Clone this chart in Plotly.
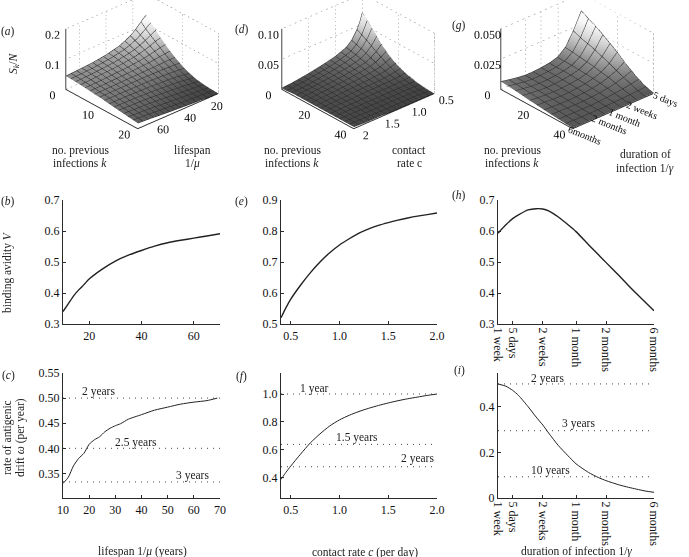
import plotly.graph_objects as go

W, H = 689, 557
FONT = "Liberation Serif"
INK = "#2a2a2a"
NB = "\u00a0"

# panel (a): S_k/N against k and lifespan
a_k = [0, 2, 4, 6, 8, 10, 12, 14, 16, 18, 20]
a_life = [10, 12, 14, 17, 20, 25, 30, 40, 50, 60, 70]
a_z = [
    [.130, .124, .115, .102, .090, .077, .067, .056, .050, .047, .044],
    [.105, .100, .094, .086, .078, .068, .061, .053, .048, .045, .043],
    [.081, .079, .076, .071, .066, .060, .055, .049, .046, .043, .041],
    [.060, .059, .058, .056, .054, .050, .048, .044, .042, .040, .039],
    [.042, .042, .042, .042, .041, .040, .040, .039, .038, .037, .036],
    [.027, .028, .029, .030, .031, .032, .033, .034, .034, .034, .034],
    [.016, .017, .018, .020, .022, .024, .025, .028, .029, .030, .030],
    [.008, .009, .010, .012, .014, .016, .018, .022, .025, .026, .027],
    [.004, .005, .006, .007, .008, .010, .012, .016, .020, .022, .024],
    [.002, .002, .003, .004, .005, .006, .008, .011, .015, .018, .021],
    [.001, .001, .002, .002, .003, .004, .005, .008, .011, .015, .018],
]

# panel (d): S_k/N against k and contact rate
d_k = [0, 3, 6, 10, 15, 20, 25, 30, 35, 40]
d_rate = [.5, .55, .6, .7, .8, 1, 1.25, 1.5, 1.75, 2]
d_z = [
    [.069, .055, .045, .031, .023, .016, .011, .007, .004, .002],
    [.059, .049, .040, .028, .021, .015, .010, .007, .004, .002],
    [.050, .042, .035, .025, .019, .014, .010, .007, .004, .003],
    [.036, .031, .027, .020, .016, .012, .009, .007, .005, .003],
    [.022, .020, .018, .014, .012, .010, .008, .006, .005, .003],
    [.013, .012, .011, .009, .008, .007, .006, .005, .004, .003],
    [.007, .007, .006, .006, .005, .005, .005, .004, .004, .003],
    [.003, .003, .003, .003, .003, .003, .003, .003, .003, .003],
    [.001, .001, .001, .002, .002, .002, .002, .002, .003, .003],
    [.000, .000, .001, .001, .001, .001, .001, .002, .002, .003],
]

# panel (g): S_k/N against k and duration of infection (days)
g_k = [0, 5, 10, 15, 20, 25, 30, 35, 40]
g_days = [5, 7, 10, 14, 20, 30, 45, 60, 90, 120, 180]
g_z = [
    [.036, .023, .012, .0065, .0045, .0035, .0030, .0030, .0040, .0050, .0065],
    [.032, .020, .011, .0065, .0045, .0035, .0030, .0030, .0035, .0045, .0058],
    [.028, .018, .010, .0062, .0044, .0034, .0028, .0027, .0032, .0040, .0050],
    [.023, .015, .009, .0058, .0040, .0031, .0025, .0024, .0028, .0033, .0040],
    [.018, .012, .0075, .0052, .0036, .0027, .0021, .0020, .0023, .0027, .0032],
    [.012, .0085, .006, .0042, .0030, .0022, .0017, .0016, .0018, .0020, .0024],
    [.007, .0055, .004, .0030, .0022, .0016, .0012, .0012, .0013, .0015, .0017],
    [.003, .0025, .002, .0017, .0014, .0010, .0008, .0008, .0008, .0009, .0010],
    [.0005, .0005, .0005, .0005, .0005, .0005, .0005, .0005, .0005, .0005, .0005],
]

# line panels
b_life = [10, 12, 14, 16, 18, 20, 25, 30, 35, 40, 45, 50, 55, 60, 65, 70]
b_avidity = [.34, .365, .39, .41, .427, .445, .477, .503, .522, .537, .551, .562, .570, .577, .584, .591]

c_life = [10, 12, 14, 16, 18, 20, 22, 24, 26, 28, 30, 32, 35, 40, 45, 50, 55, 60, 65, 69]
c_drift = [.33, .342, .365, .38, .39, .408, .417, .423, .433, .44, .445, .449, .458, .467, .476, .482, .488, .492, .495, .50]
c_levels = [.5, .4, .333]

e_rate = [.4, .45, .5, .6, .7, .8, .9, 1.0, 1.1, 1.2, 1.3, 1.4, 1.5, 1.6, 1.7, 1.8, 1.9, 2.0]
e_avidity = [.52, .552, .58, .625, .665, .70, .73, .755, .775, .793, .807, .818, .827, .835, .842, .848, .853, .858]

f_rate = [.4, .45, .5, .6, .7, .8, .9, 1.0, 1.1, 1.2, 1.3, 1.4, 1.5, 1.6, 1.7, 1.8, 1.9, 2.0]
f_drift = [.39, .44, .485, .57, .65, .715, .772, .815, .848, .875, .898, .918, .936, .952, .966, .978, .99, 1.0]
f_levels = [1.0, .64, .48]

h_days = [5, 6, 7, 8, 10, 12, 14, 16, 20, 25, 30, 40, 50, 60, 80, 100, 120, 150, 180]
h_avidity = [.593, .62, .64, .652, .668, .672, .671, .665, .645, .62, .598, .556, .524, .498, .457, .424, .398, .368, .343]

i_days = [5, 6, 7, 8, 10, 12, 14, 16, 20, 25, 30, 40, 50, 60, 80, 100, 120, 150, 180]
i_drift = [.50, .49, .472, .45, .40, .355, .32, .285, .23, .185, .15, .112, .09, .076, .058, .047, .039, .03, .025]
i_levels = [.5, .295, .093]

dur_ticks = [5, 7, 14, 30, 60, 180]
dur_labels = ["1 week", "5 days", "2 weeks", "1 month", "2 months", "6 months"]


def ann(x, y, text, angle=0, size=11.5):
    return dict(x=x / W, y=1 - y / H, xref="paper", yref="paper", text=text, textangle=angle,
                xanchor="center", yanchor="middle", showarrow=False,
                font=dict(family=FONT, size=size, color="#222"))


def dom(lo, hi, total, flip=False):
    return [1 - hi / total, 1 - lo / total] if flip else [lo / total, hi / total]


fig = go.Figure()


def line_panel(n, xs, ys, xbox, ybox, xr, yr, xt, yt, xtext=None, levels=()):
    ax, ay = f"x{n}", f"y{n}"
    dot_x = [10 ** xr[0], 10 ** xr[1]] if xtext else xr
    for lv in levels:
        fig.add_trace(go.Scatter(x=dot_x, y=[lv, lv], mode="lines", xaxis=ax, yaxis=ay, showlegend=False,
                                 line=dict(color="#444", width=1, dash="1px 5px")))
    fig.add_trace(go.Scatter(x=xs, y=ys, mode="lines", xaxis=ax, yaxis=ay, showlegend=False,
                             line=dict(color="#222", width=1 if levels else 1.4, shape="spline", smoothing=0.6)))
    common = dict(showline=True, linecolor=INK, linewidth=1.2, showgrid=False, zeroline=False,
                  ticks="inside", ticklen=2.5, tickcolor=INK,
                  tickfont=dict(family=FONT, size=12, color="#111"))
    xa = dict(domain=dom(*xbox, W), range=xr, tickvals=xt, anchor=ay, **common)
    if xtext:
        xa.update(ticktext=xtext, tickangle=90, type="log")
    ya = dict(domain=dom(*ybox, H, flip=True), range=yr, tickvals=yt, anchor=ax, **common)
    name = "" if n == 1 else str(n)
    fig.update_layout({f"xaxis{name}": xa, f"yaxis{name}": ya})


def surface_panel(name, xs, ys, zs, xbox, ybox, xr, yr, zr, xt, yt, zt, ytext, ztext, eye, center, shade,
                  ylog=False, yangle=0, nx=15, ny=15):
    # dotted walls of the box, from the tick arrays
    ylo = 10 ** yr[0] if ylog else yr[0]
    yhi = 10 ** yr[1] if ylog else yr[1]
    wall_x, wall_y, wall_z = [], [], []

    def seg(a, b):
        wall_x.extend([a[0], b[0], None])
        wall_y.extend([a[1], b[1], None])
        wall_z.extend([a[2], b[2], None])

    for z in list(zt):
        seg((xr[0], ylo, z), (xr[0], yhi, z))
        seg((xr[0], yhi, z), (xr[1], yhi, z))
    for x in list(xt) + [xr[1]]:
        seg((x, yhi, zr[0]), (x, yhi, zr[1]))
    for y in list(yt):
        seg((xr[0], y, zr[0]), (xr[0], y, zr[1]))
    fig.add_trace(go.Scatter3d(x=wall_x, y=wall_y, z=wall_z, mode="lines", scene=name, showlegend=False,
                               line=dict(color="#888", width=1, dash="dot")))
    ylow, yhigh = min(yr), max(yr)
    fig.add_trace(go.Surface(x=xs, y=ys, z=[list(r) for r in zip(*zs)], scene=name, showscale=False,
                             colorscale=[[0, "#404040"], [.2, "#6a6a6a"], [.3, "#7e7e7e"], [.5, "#aaaaaa"], [.75, "#d8d8d8"], [1, "#f8f8f8"]],
                             cmin=shade[0], cmax=shade[1],
                             lighting=dict(ambient=1, diffuse=0, specular=0, roughness=1),
                             contours=dict(
                                 x=dict(show=True, color="#2a2a2a", width=1, start=xr[0], end=xr[1], size=(xr[1] - xr[0]) / nx),
                                 y=dict(show=True, color="#2a2a2a", width=1, start=ylow, end=yhigh, size=(yhigh - ylow) / ny))))
    base = dict(showbackground=False, showgrid=False, zeroline=False, showspikes=False, title=dict(text=""),
                showline=True, linecolor=INK, linewidth=2, ticks="inside", ticklen=0,
                tickfont=dict(family=FONT, size=12, color="#111"))
    ya = dict(range=yr, tickvals=yt, ticktext=ytext, tickangle=yangle, **base)
    if ylog:
        ya["type"] = "log"
        ya["tickfont"] = dict(family=FONT, size=11, color="#111")
    fig.update_layout({name: dict(
        domain=dict(x=dom(*xbox, W), y=dom(*ybox, H, flip=True)),
        xaxis=dict(range=xr, tickvals=xt, tickangle=0, **base),
        yaxis=ya,
        zaxis=dict(range=zr, tickvals=zt, ticktext=ztext, tickangle=0, **base),
        aspectmode="manual", aspectratio=dict(x=1.27, y=1.27, z=.815),
        camera=dict(projection=dict(type="orthographic"), eye=eye, center=center, up=dict(x=0, y=0, z=1)),
    )})


eye = dict(x=1.12, y=-1, z=.52)
center = dict(x=0, y=0, z=-.32)

surface_panel("scene", a_k, a_life, a_z, (37, 247), (0, 170), [0, 20], [70, 10], [0, .2], [10, 20], [20, 40, 60], [0, .1, .2],
              ["20", "40", "60"], ["0", "0.1", "0.2"], eye, center, (0, .12))
surface_panel("scene2", d_k, d_rate, d_z, (253, 463), (0, 170), [0, 40], [2, .5], [0, .1], [20, 40], [.5, 1, 1.5, 2], [0, .05, .1],
              ["0.5", "1.0", "1.5", "2"], ["0", "0.05", "0.10"], eye, center, (0, .069))
surface_panel("scene3", g_k, g_days, g_z, (465, 689), (0, 170), [0, 40], [2.2553, .699], [0, .05], [20, 40], [5, 14, 30, 60, 180], [0, .025, .05],
              [NB * 14 + "5 days", NB * 16 + "2 weeks", NB * 16 + "1 month", NB * 18 + "2 months", NB * 18 + "6months"],
              ["0", "0.025", "0.050"], eye, center, (-.003, .03), ylog=True, yangle=22, nx=10, ny=10)

line_panel(1, b_life, b_avidity, (63, 220), (200, 324), [10, 70], [.3, .7], [20, 40, 60], [.3, .4, .5, .6, .7])
line_panel(2, c_life, c_drift, (63, 220), (373, 498), [10, 70], [.301, .55], [10, 20, 30, 40, 50, 60, 70], [.35, .4, .45, .5, .55], levels=c_levels)
line_panel(3, e_rate, e_avidity, (281, 437), (200, 324), [.4, 2], [.5, .9], [.5, 1, 1.5, 2], [.5, .6, .7, .8, .9])
line_panel(4, f_rate, f_drift, (281, 437), (373, 498), [.4, 2], [.257, 1.15], [.5, 1, 1.5, 2], [.4, .6, .8, 1], levels=f_levels)
line_panel(5, h_days, h_avidity, (498, 654), (200, 324), [.699, 2.2553], [.3, .7], dur_ticks, [.3, .4, .5, .6, .7], xtext=dur_labels)
line_panel(6, i_days, i_drift, (498, 654), (373, 498), [.699, 2.2553], [0, .548], dur_ticks, [0, .2, .4], xtext=dur_labels, levels=i_levels)

fig.update_layout(yaxis4=dict(tickformat=".1f"), yaxis=dict(tickformat=".1f"), yaxis3=dict(tickformat=".1f"),
                  yaxis5=dict(tickformat=".1f"), yaxis2=dict(tickformat=".2f"),
                  xaxis3=dict(tickformat=".1f"), xaxis4=dict(tickformat=".1f"),
                  yaxis6=dict(tickvals=[0, .2, .4], ticktext=["0", "0.2", "0.4"]))

annotations = [
    ann(8, 32, "(<i>a</i>)"), ann(8, 201, "(<i>b</i>)"), ann(8, 375, "(<i>c</i>)"),
    ann(242, 30, "(<i>d</i>)"), ann(241, 201, "(<i>e</i>)"), ann(241, 376, "(<i>f</i>)"),
    ann(459, 25, "(<i>g</i>)"), ann(459, 195, "(<i>h</i>)"), ann(459, 370, "(<i>i</i>)"),
    ann(14, 63, "<i>S<sub>k</sub></i>/<i>N</i>", -90), ann(7, 272, "binding avidity <i>V</i>", -90),
    ann(7, 438, "rate of antigenic", -90), ann(20, 438, "drift <i>ω</i> (per year)", -90),
    ann(80, 150, "no. previous"), ann(80, 163, "infections <i>k</i>"),
    ann(192, 150, "lifespan"), ann(192, 163, "1/<i>μ</i>"),
    ann(292, 150, "no. previous"), ann(292, 163, "infections <i>k</i>"),
    ann(409, 150, "contact"), ann(409, 163, "rate c"),
    ann(512, 150, "no. previous"), ann(512, 163, "infections <i>k</i>"),
    ann(645, 154, "duration of"), ann(645, 168, "infection 1/<i>γ</i>"),
    ann(142, 551, "lifespan 1/<i>μ</i> (years)"), ann(365, 552, "contact rate <i>c</i> (per day)"),
    ann(576, 551, "duration of infection 1/<i>γ</i>"),
    ann(98, 391, "2 years"), ann(136, 442, "2.5 years"), ann(192, 475, "3 years"),
    ann(314, 388, "1 year"), ann(357, 437, "1.5 years"), ann(417, 458, "2 years"),
    ann(547, 378, "2 years"), ann(578, 423, "3 years"), ann(550, 470, "10 years"),
]

fig.update_layout(width=W, height=H, margin=dict(l=0, r=0, t=0, b=0, autoexpand=False), paper_bgcolor="white", plot_bgcolor="white",
                  showlegend=False, annotations=annotations)
# the default page keeps an 8px body margin, drop it so the figure fills the window
fig.write_html("out.html", config=dict(displayModeBar=False), post_script="document.body.style.margin='0';")
